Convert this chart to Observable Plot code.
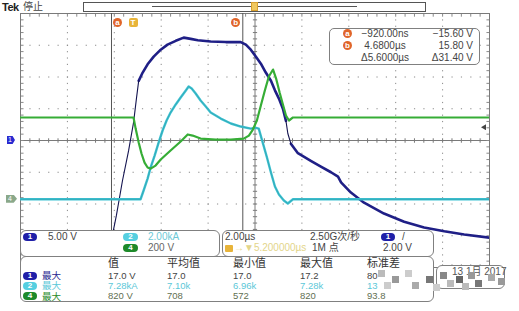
<!DOCTYPE html>
<html><head><meta charset="utf-8">
<script src="https://cdn.jsdelivr.net/npm/d3@7"></script>
<script src="https://cdn.jsdelivr.net/npm/@observablehq/plot@0.6"></script>
<style>
body{margin:0;background:#fff;}
#wrap{position:relative;width:519px;height:311px;overflow:hidden;font-family:"Liberation Sans","Noto Sans CJK SC",sans-serif;color:#333;}
#wrap svg{position:absolute;left:0;top:0;}
.a{position:absolute;white-space:nowrap;line-height:1;}
.panel{position:absolute;background:#fff;border:1px solid #808080;border-radius:6px;box-sizing:border-box;}
.badge{position:absolute;color:#fff;font-size:8px;font-weight:bold;text-align:center;line-height:8px;height:8px;border-radius:4px;}
.circ{position:absolute;width:9px;height:9px;border-radius:50%;background:#e0652a;color:#fff;font-size:8px;font-weight:bold;text-align:center;line-height:9px;}
.mos{position:absolute;width:7px;height:7px;}
</style></head>
<body><div id="wrap"></div>
<script>
// ---- data ----
// Channel 1 (gate voltage, V)
const ch1Time  = [-1.05,-0.92,-0.71,-0.45,-0.19,0.02,0.15,0.24,0.41,0.62,0.88,1.18,1.47,1.82,2.16,2.46,2.76,3.31,3.95,4.59,4.81,5.02,5.24,5.45,5.66,5.88,6.05,6.22,6.39,6.52,6.60,6.73,7.03,7.58,8.01,8.44,8.74,8.87,9.29,9.85,10.7,11.56,12.41,13.27,14.12,15.2];
const ch1Volts = [-17.6,-15.6,-11.8,-6.3,-1.6,2.8,6.8,9.4,10.7,12.0,13.2,14.3,15.1,15.7,16.2,16.0,15.8,15.6,15.5,15.5,15.1,14.3,13.2,12.1,10.7,9.4,7.9,6.6,5.0,3.1,1.1,-0.5,-2.0,-3.2,-4.1,-5.0,-5.7,-6.6,-8.2,-9.8,-11.5,-12.8,-13.7,-14.3,-14.8,-15.3];
// fast edges of channel 1 (drawn thin, as the scope shows them)
const ch1FastEdges = [[-1.05, 0.24], [6.52, 6.73]];
// Channel 2 (current, kA)
const ch2Time = [-4.8,0.32,0.45,0.62,0.75,0.92,1.09,1.26,1.43,1.60,1.82,2.03,2.25,2.37,2.50,2.67,2.88,3.10,3.31,3.74,4.17,4.59,5.02,5.24,5.36,5.53,5.71,5.88,6.05,6.22,6.43,6.60,6.82,15.2];
const ch2kA   = [0,0,0.55,1.30,2.0,2.75,3.57,4.33,4.96,5.46,5.97,6.41,6.85,7.10,6.97,6.66,6.22,5.84,5.46,5.08,4.77,4.58,4.45,4.50,4.45,3.57,2.63,1.68,0.80,0.30,-0.08,-0.27,0,0];
// Channel 4 (collector voltage, V)
const ch4Time  = [-4.8,0.02,0.11,0.24,0.36,0.49,0.62,0.75,0.96,1.18,1.60,2.03,2.33,2.54,2.88,3.53,4.17,4.72,4.94,5.11,5.28,5.45,5.62,5.79,5.97,6.10,6.25,6.39,6.52,6.65,6.82,15.2];
const ch4Volts = [515,515,445,357,288,231,200,193,212,250,307,364,408,401,382,376,376,382,401,439,496,590,685,773,817,760,672,597,527,496,515,515];

// scope settings
const ch1Scale = 5, ch1Pos = 0;        // V/div, div
const ch2Scale = 2, ch2Pos = -1.85;    // kA/div
const ch4Scale = 200, ch4Pos = -1.85;  // V/div
const timeDomain = [-4.8, 15.2];       // µs, 2 µs/div
const triggerTime = 0;
const cursorTimes = [-0.92, 4.68];
const cursorNames = ["a", "b"];
const readoutTimes = ["\u2212920.00ns", "4.6800\u00b5s", "\u03945.6000\u00b5s"];
const readoutVolts = ["\u221215.60 V", "15.80 V", "\u039431.40 V"];
const measHeaders = ["值", "平均值", "最小值", "最大值", "标准差"];
const measCh = ["1", "2", "4"];
const measLabel = ["最大", "最大", "最大"];
const measCh1 = ["17.0 V", "17.0", "17.0", "17.2", "80"];
const measCh2 = ["7.28kA", "7.10k", "6.96k", "7.28k", "13"];
const measCh4 = ["820 V", "708", "572", "820", "93.8"];

const C1 = "#1f1f86", C2 = "#3fc3d3", C4 = "#36ad36";

const rows = (t, v, s, p) => t.map((x, i) => ({t: x, d: v[i] / s + p}));
const d1 = rows(ch1Time, ch1Volts, ch1Scale, ch1Pos);
const d2 = rows(ch2Time, ch2kA, ch2Scale, ch2Pos);
const d4 = rows(ch4Time, ch4Volts, ch4Scale, ch4Pos);

// split channel 1 into slow (thick) and fast (thin) pieces sharing boundary points
const isFast = t => ch1FastEdges.some(([a, b]) => t >= a && t <= b);
const d1Slow = [], d1Fast = [];
let seg = 0, prevFast = null;
d1.forEach((p, i) => {
  if (i < d1.length - 1) {
    const f = isFast(p.t) && isFast(d1[i + 1].t);
    const target = f ? d1Fast : d1Slow;
    if (f !== prevFast) seg++;
    target.push({...p, s: seg}, {...d1[i + 1], s: seg});
    prevFast = f;
  }
});

const center = (timeDomain[0] + timeDomain[1]) / 2;
const majorT = d3.range(1, 10).map(k => timeDomain[0] + 2 * k).filter(t => Math.abs(t - center) > 1e-6);
const majorD = [-3, -2, -1, 1, 2, 3];
const minorT = d3.range(0, 51).map(k => timeDomain[0] + 0.4 * k);
const minorD = d3.range(0, 41).map(k => -4 + 0.2 * k);

const chart = Plot.plot({
  width: 519, height: 311,
  marginLeft: 20, marginRight: 30, marginTop: 13, marginBottom: 44,
  x: {domain: timeDomain, axis: null},
  y: {domain: [-4, 4], axis: null},
  marks: [
    Plot.ruleX(majorT, {stroke: "#8a8a8a", strokeDasharray: "1.2,5.15"}),
    Plot.ruleY(majorD, {stroke: "#8a8a8a", strokeDasharray: "1.2,8.18"}),
    Plot.ruleX([center], {stroke: "#7a7a7a"}),
    Plot.ruleY([0], {stroke: "#7a7a7a"}),
    Plot.link(minorT, {x1: d => d, x2: d => d, y1: -0.07, y2: 0.07, stroke: "#7a7a7a"}),
    Plot.link(minorD, {y1: d => d, y2: d => d, x1: center - 0.09, x2: center + 0.09, stroke: "#7a7a7a"}),
    Plot.link(minorT, {x1: d => d, x2: d => d, y1: 4, y2: 3.9, stroke: "#8a8a8a"}),
    Plot.link(minorT, {x1: d => d, x2: d => d, y1: -4, y2: -3.9, stroke: "#8a8a8a"}),
    Plot.link(minorD, {y1: d => d, y2: d => d, x1: timeDomain[0], x2: timeDomain[0] + 0.13, stroke: "#8a8a8a"}),
    Plot.link(minorD, {y1: d => d, y2: d => d, x1: timeDomain[1], x2: timeDomain[1] - 0.13, stroke: "#8a8a8a"}),
    Plot.frame({stroke: "#7a7a7a"}),
    Plot.ruleX(cursorTimes, {stroke: "#555", strokeWidth: 1}),
    Plot.line(d1Slow, {x: "t", y: "d", z: "s", stroke: C1, strokeWidth: 2.6, clip: true}),
    Plot.line(d1Fast, {x: "t", y: "d", z: "s", stroke: "#141450", strokeWidth: 1.1, clip: true}),
    Plot.line(d2, {x: "t", y: "d", stroke: C2, strokeWidth: 2.4, clip: true}),
    Plot.line(d2, {x: "t", y: "d", stroke: "#2a9aa6", strokeWidth: 0.6, clip: true}),
    Plot.line(d4, {x: "t", y: "d", stroke: C4, strokeWidth: 2.2, clip: true})
  ]
});

const wrap = document.getElementById("wrap");
wrap.appendChild(chart);
const xs = chart.scale("x"), ys = chart.scale("y");

function el(cls, css, text) {
  const e = document.createElement("div");
  e.className = cls;
  Object.assign(e.style, css);
  if (text != null) e.textContent = text;
  wrap.appendChild(e);
  return e;
}
const px = v => v + "px";

// top bar
el("a", {left: "2px", top: "2px", fontSize: "11px", fontWeight: "bold", color: "#222", letterSpacing: "-0.5px"}, "Tek");
el("a", {left: "23px", top: "2px", fontSize: "10px", color: "#444"}, "停止");
el("a", {left: "83px", top: "2px", width: "343px", height: "10px", border: "1.5px solid #555", boxSizing: "border-box", background: "#fff"});
el("a", {left: "152px", top: "6px", width: "205px", height: "1px", background: "#555"});
el("a", {left: px(xs.apply(center) - 4), top: "2px", width: "7px", height: "9px", border: "1px solid #d8a030", background: "#f0c860", boxSizing: "border-box"});

// cursor labels and trigger marker
cursorNames.forEach((n, i) => {
  const x = xs.apply(cursorTimes[i]) + (i === 0 ? 2 : -11);
  el("circ", {left: px(x), top: "18px"}, n);
});
el("a", {left: px(xs.apply(triggerTime) - 4), top: "18px", width: "9px", height: "9px", borderRadius: "2px", background: "#e8b43a", color: "#fff", fontSize: "8px", fontWeight: "bold", textAlign: "center", lineHeight: "9px"}, "T");

// channel ground markers
el("a", {left: "7px", top: px(ys.apply(ch1Pos) - 4), width: "8px", height: "8px", background: "#2a2ad0", clipPath: "polygon(0 0,70% 0,100% 50%,70% 100%,0 100%)", color: "#fff", fontSize: "7px", lineHeight: "8px", textAlign: "left", paddingLeft: "1px", boxSizing: "border-box"}, "1");
el("a", {left: "6px", top: px(ys.apply(ch4Pos) - 4), width: "11px", height: "8px", background: "#8aa88a", clipPath: "polygon(0 0,70% 0,100% 50%,70% 100%,0 100%)", color: "#fff", fontSize: "7px", lineHeight: "8px", paddingLeft: "2px", boxSizing: "border-box"}, "4");
// trigger level arrow
el("a", {left: "481px", top: px(ys.apply(2 / ch1Scale) - 3), width: "5px", height: "6px", background: "#444", clipPath: "polygon(0 50%,100% 0,100% 100%)"});

// cursor readout box
el("panel", {left: "329px", top: "28px", width: "151px", height: "37px", borderRadius: "5px"});
cursorNames.forEach((n, i) => el("circ", {left: "343px", top: px(29 + i * 12)}, n));
readoutTimes.forEach((s, i) => el("a", {left: "355px", width: "60px", textAlign: "center", top: px(29 + i * 12), fontSize: "10px", color: "#444"}, s));
readoutVolts.forEach((s, i) => el("a", {left: "412px", width: "61px", textAlign: "right", top: px(29 + i * 12), fontSize: "10px", color: "#444"}, s));

// bottom: channel settings panel
el("panel", {left: "20px", top: "230px", width: "200px", height: "27px"});
el("badge", {left: "23px", top: "233px", width: "14px", background: "#1f1fa8"}, "1");
el("a", {left: "48px", top: "232px", fontSize: "10px", color: "#444"}, ch1Scale.toFixed(2) + " V");
el("badge", {left: "123px", top: "233px", width: "15px", background: "#55cfe0"}, "2");
el("a", {left: "148px", top: "232px", fontSize: "10px", color: "#6cc9d6"}, ch2Scale.toFixed(2) + "kA");
el("badge", {left: "123px", top: "244px", width: "15px", background: "#1e8a2a"}, "4");
el("a", {left: "148px", top: "243px", fontSize: "10px", color: "#666"}, ch4Scale + " V");

// timebase panel
el("panel", {left: "222px", top: "230px", width: "212px", height: "27px"});
el("a", {left: "225px", top: "232px", fontSize: "10px", color: "#444"}, "2.00\u00b5s");
el("a", {left: "225px", top: "245px", width: "8px", height: "7px", borderRadius: "1px", background: "#e8b43a"});
el("a", {left: "234px", top: "243px", fontSize: "10px", color: "#e3d58a"}, "\u2192\u25bc" + center.toFixed(6) + "\u00b5s");
el("a", {left: "310px", top: "232px", fontSize: "10px", color: "#444"}, "2.50G次/秒");
el("a", {left: "312px", top: "243px", fontSize: "10px", color: "#444"}, "1M 点");
el("badge", {left: "381px", top: "233px", width: "14px", background: "#1f1fa8"}, "1");
el("a", {left: "402px", top: "232px", fontSize: "10px", color: "#444"}, "/");
el("a", {left: "383px", top: "243px", fontSize: "10px", color: "#444"}, "2.00 V");

// measurement panel
el("panel", {left: "20px", top: "256px", width: "414px", height: "46px"});
const colX = [108, 167, 233, 300, 367];
measHeaders.forEach((h, i) => el("a", {left: px(colX[i]), top: "258px", fontSize: "11px", color: "#333"}, h));
const mRows = [measCh1, measCh2, measCh4];
const badgeBg = ["#1f1fa8", "#55cfe0", "#1e8a2a"];
const labelCol = ["#2a2a90", "#5cc8d8", "#2a8a2a"];
const valCol = ["#444", "#5cc8d8", "#5f6f52"];
mRows.forEach((r, j) => {
  const y = 271 + j * 10.2;
  el("badge", {left: "23px", top: px(y + 1), width: "14px", background: badgeBg[j]}, measCh[j]);
  el("a", {left: "42px", top: px(y + 0.2), fontSize: "9.5px", lineHeight: "9.5px", color: labelCol[j]}, measLabel[j]);
  r.forEach((v, i) => el("a", {left: px(colX[i]), top: px(y), fontSize: "9.5px", color: valCol[j]}, v));
});

// date box
el("panel", {left: "436px", top: "265px", width: "69px", height: "24px", borderRadius: "6px"});
el("a", {left: "452px", top: "267px", fontSize: "10px", color: "#555"}, "13 1月 2017");

// pixelated watermark
const mos = [[378,270,"#bbb"],[392,276,"#999"],[405,270,"#ccc"],[412,282,"#aaa"],[426,276,"#777"],[440,272,"#888"],[447,280,"#bbb"],[456,276,"#666"],[468,272,"#999"],[475,280,"#777"],[488,274,"#aaa"],[384,282,"#ccc"],[462,283,"#bbb"],[498,278,"#999"],[433,284,"#ccc"]];
mos.forEach(m => el("mos", {left: px(m[0]), top: px(m[1]), background: m[2]}));
</script>
</body></html>
